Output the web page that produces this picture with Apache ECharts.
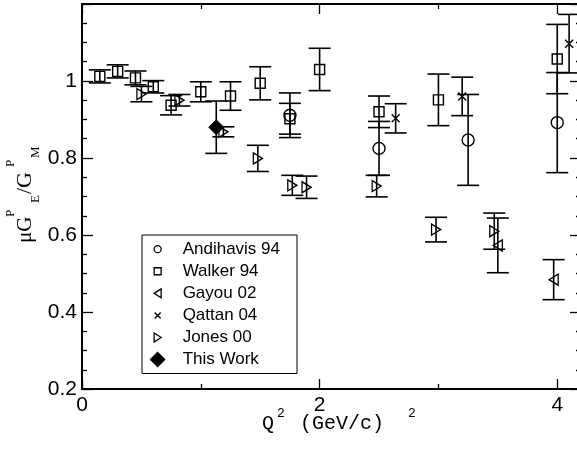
<!DOCTYPE html>
<html>
<head>
<meta charset="utf-8">
<script src="https://cdn.jsdelivr.net/npm/echarts@6/dist/echarts.min.js"></script>
<style>
  html, body { margin: 0; padding: 0; background: #fff; }
  #chart { width: 577px; height: 449px; }
</style>
</head>
<body>
<div id="chart"></div>
<script>
// Datos: Q^2 (GeV/c)^2, cociente y error
var andivahisQ2 = [1.75, 2.5, 3.25, 4.0];
var andivahisR = [0.911, 0.825, 0.847, 0.892];
var andivahisErr = [0.058, 0.07, 0.118, 0.13];

var walkerQ2 = [0.15, 0.3, 0.45, 0.6, 0.75, 1.0, 1.25, 1.5, 1.75, 2.0, 2.5, 3.0, 4.0];
var walkerR = [1.012, 1.025, 1.008, 0.985, 0.937, 0.972, 0.961, 0.994, 0.902, 1.03, 0.92, 0.951, 1.057];
var walkerErr = [0.017, 0.017, 0.018, 0.016, 0.025, 0.026, 0.037, 0.043, 0.04, 0.055, 0.041, 0.067, 0.09];

var gayouQ2 = [3.5, 3.97];
var gayouR = [0.573, 0.484];
var gayouErr = [0.071, 0.052];

var qattanQ2 = [2.64, 3.2, 4.1];
var qattanR = [0.903, 0.96, 1.097];
var qattanErr = [0.038, 0.05, 0.076];

var jonesQ2 = [0.5, 0.82, 1.19, 1.48, 1.77, 1.89, 2.48, 2.98, 3.47];
var jonesR = [0.966, 0.95, 0.868, 0.799, 0.729, 0.724, 0.727, 0.614, 0.61];
var jonesErr = [0.02, 0.015, 0.013, 0.034, 0.026, 0.029, 0.028, 0.032, 0.047];

var thisWorkQ2 = [1.13];
var thisWorkR = [0.88];
var thisWorkErr = [0.068];

var legendNames = ['Andihavis 94', 'Walker 94', 'Gayou 02', 'Qattan 04', 'Jones 00', 'This Work'];

document.addEventListener('DOMContentLoaded', function () {
  var chart = echarts.init(document.getElementById('chart'));

  function points(q2, r) {
    return q2.map(function (q, i) { return [q, r[i]]; });
  }
  function bars(q2, r, err) {
    return q2.map(function (q, i) { return [q, r[i] - err[i], r[i] + err[i]]; });
  }

  // barra de error con remates horizontales
  function renderBar(params, api) {
    var lo = api.coord([api.value(0), api.value(1)]);
    var hi = api.coord([api.value(0), api.value(2)]);
    var w = 11;
    var style = { stroke: '#000', lineWidth: 1.6 };
    return {
      type: 'group',
      children: [
        { type: 'line', shape: { x1: lo[0], y1: lo[1], x2: hi[0], y2: hi[1] }, style: style },
        { type: 'line', shape: { x1: lo[0] - w, y1: lo[1], x2: lo[0] + w, y2: lo[1] }, style: style },
        { type: 'line', shape: { x1: hi[0] - w, y1: hi[1], x2: hi[0] + w, y2: hi[1] }, style: style }
      ]
    };
  }

  function errSeries(q2, r, err) {
    return {
      type: 'custom',
      renderItem: renderBar,
      encode: { x: 0, y: [1, 2] },
      data: bars(q2, r, err),
      silent: true,
      clip: false,
      z: 2
    };
  }

  var hollow = { color: 'rgba(0,0,0,0)', borderColor: '#000', borderWidth: 1.4, opacity: 1 };

  function markSeries(name, q2, r, symbol, size, style) {
    return {
      name: name,
      type: 'scatter',
      symbol: symbol,
      symbolSize: size,
      itemStyle: style,
      data: points(q2, r),
      z: 3
    };
  }

  var legendStyle = { color: 'rgba(0,0,0,0)', borderColor: '#000', borderWidth: 1.3, opacity: 1 };

  var tickStyle = { color: '#000', width: 1.3 };
  var axisLineStyle = { color: '#000', width: 2 };
  var labelFont = { color: '#000', fontSize: 21, fontFamily: 'Liberation Sans' };

  function xAxisDef(pos, showLabel) {
    return {
      type: 'value', position: pos, min: 0, max: 4.2, interval: 2,
      axisLine: { onZero: false, lineStyle: axisLineStyle },
      axisTick: { inside: true, length: 10, lineStyle: tickStyle },
      minorTick: { show: true, splitNumber: 2, length: 5, lineStyle: tickStyle },
      splitLine: { show: false },
      axisLabel: Object.assign({
        show: showLabel, margin: 6,
        formatter: function (v) { return Math.abs(v % 2) < 1e-9 ? String(v) : ''; }
      }, labelFont)
    };
  }
  function yAxisDef(pos, showLabel) {
    return {
      type: 'value', position: pos, min: 0.2, max: 1.2, interval: 0.2,
      axisLine: { onZero: false, lineStyle: axisLineStyle },
      axisTick: { inside: true, length: 11, lineStyle: tickStyle },
      minorTick: { show: true, splitNumber: 4, length: 5, lineStyle: tickStyle },
      splitLine: { show: false },
      axisLabel: Object.assign({
        show: showLabel, margin: 5,
        formatter: function (v) {
          if (v > 1.1) return '';
          return Math.abs(v - 1) < 1e-9 ? '1' : v.toFixed(1);
        }
      }, labelFont)
    };
  }

  var option = {
    animation: false,
    grid: { left: 82, right: -4, top: 4, bottom: 60, containLabel: false, outerBoundsMode: 'none' },
    xAxis: [xAxisDef('bottom', true), xAxisDef('top', false)],
    yAxis: [yAxisDef('left', true), yAxisDef('right', false)],
    legend: {
      orient: 'vertical',
      left: 142, top: 235,
      padding: [5.5, 17, 5.5, 7],
      itemWidth: 16, itemHeight: 16, itemGap: 4.8,
      borderColor: '#000', borderWidth: 1, backgroundColor: '#fff',
      selectedMode: false,
      textStyle: { color: '#000', fontSize: 17, fontFamily: 'Liberation Sans', padding: [0, 0, 0, 12] },
      data: [
        { name: legendNames[0], icon: 'path://M0,0M16,16M4.5,8A3.5,3.5,0,1,1,11.5,8A3.5,3.5,0,1,1,4.5,8Z', itemStyle: legendStyle },
        { name: legendNames[1], icon: 'path://M0,0M16,16M4.5,4.5L11.5,4.5L11.5,11.5L4.5,11.5Z', itemStyle: legendStyle },
        { name: legendNames[2], icon: 'path://M0,0M16,16M11.5,3.5L4.5,8L11.5,12.5Z', itemStyle: legendStyle },
        { name: legendNames[3], icon: 'path://M0,0M16,16M5,5L11,11M11,5L5,11', itemStyle: legendStyle },
        { name: legendNames[4], icon: 'path://M0,0M16,16M4.5,3.5L11.5,8L4.5,12.5Z', itemStyle: legendStyle },
        { name: legendNames[5], icon: 'path://M8,0L16,8L8,16L0,8Z', itemStyle: { color: '#000', borderWidth: 0, opacity: 1 } }
      ]
    },
    graphic: [
      {
        type: 'group', x: 36, y: 243, rotation: Math.PI / 2,
        children: [
          { type: 'text', x: 0, y: 0, style: { text: 'μG', font: '21px "Liberation Serif"', fill: '#000', verticalAlign: 'bottom', textVerticalAlign: 'bottom' } },
          { type: 'text', x: 26, y: -18.5, style: { text: 'P', font: '13px "Liberation Serif"', fill: '#000', verticalAlign: 'bottom', textVerticalAlign: 'bottom' } },
          { type: 'text', x: 40, y: 6.5, style: { text: 'E', font: '13px "Liberation Serif"', fill: '#000', verticalAlign: 'bottom', textVerticalAlign: 'bottom' } },
          { type: 'text', x: 49, y: 0, style: { text: '/G', font: '22px "Liberation Serif"', fill: '#000', verticalAlign: 'bottom', textVerticalAlign: 'bottom' } },
          { type: 'text', x: 76, y: -18.5, style: { text: 'P', font: '13px "Liberation Serif"', fill: '#000', verticalAlign: 'bottom', textVerticalAlign: 'bottom' } },
          { type: 'text', x: 85, y: 6.5, style: { text: 'M', font: '13px "Liberation Serif"', fill: '#000', verticalAlign: 'bottom', textVerticalAlign: 'bottom' } }
        ]
      },
      { type: 'text', x: 262, y: 434, style: { text: 'Q', font: '20px "Liberation Mono"', fill: '#000', verticalAlign: 'bottom', textVerticalAlign: 'bottom' } },
      { type: 'text', x: 277, y: 420, style: { text: '2', font: '13px "Liberation Mono"', fill: '#000', verticalAlign: 'bottom', textVerticalAlign: 'bottom' } },
      { type: 'text', x: 300, y: 434, style: { text: '(GeV/c)', font: '20px "Liberation Mono"', fill: '#000', verticalAlign: 'bottom', textVerticalAlign: 'bottom' } },
      { type: 'text', x: 408, y: 420, style: { text: '2', font: '13px "Liberation Mono"', fill: '#000', verticalAlign: 'bottom', textVerticalAlign: 'bottom' } }
    ],
    series: [
      errSeries(andivahisQ2, andivahisR, andivahisErr),
      errSeries(walkerQ2, walkerR, walkerErr),
      errSeries(gayouQ2, gayouR, gayouErr),
      errSeries(qattanQ2, qattanR, qattanErr),
      errSeries(jonesQ2, jonesR, jonesErr),
      errSeries(thisWorkQ2, thisWorkR, thisWorkErr),
      markSeries(legendNames[0], andivahisQ2, andivahisR, 'circle', 12, hollow),
      markSeries(legendNames[1], walkerQ2, walkerR, 'rect', 10, hollow),
      markSeries(legendNames[2], gayouQ2, gayouR, 'path://M10,0L0,5.5L10,11Z', [9, 11], hollow),
      markSeries(legendNames[3], qattanQ2, qattanR, 'path://M0,0L10,10M10,0L0,10', 8, hollow),
      markSeries(legendNames[4], jonesQ2, jonesR, 'path://M0,0L10,5.5L0,11Z', [9, 11], hollow),
      markSeries(legendNames[5], thisWorkQ2, thisWorkR, 'diamond', 16, { color: '#000', opacity: 1 })
    ]
  };

  chart.setOption(option);
});
</script>
</body>
</html>
